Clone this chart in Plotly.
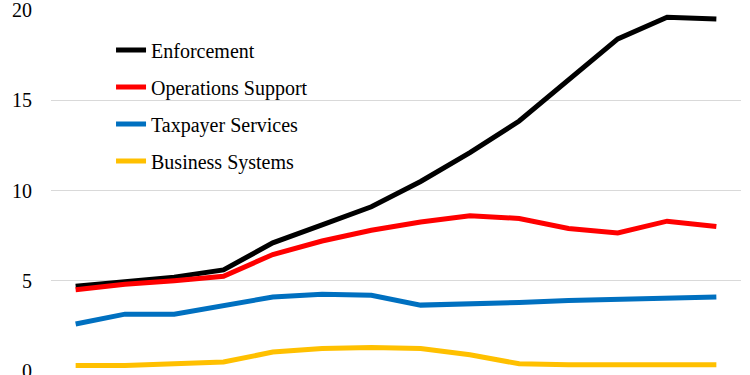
import plotly.graph_objects as go

years = [str(y) for y in range(2010, 2024)]
enforcement = [4.7, 4.95, 5.2, 5.6, 7.1, 8.1, 9.1, 10.5, 12.1, 13.85, 16.1, 18.4, 19.6, 19.5]
operations_support = [4.5, 4.8, 5.0, 5.25, 6.45, 7.2, 7.8, 8.25, 8.6, 8.45, 7.9, 7.65, 8.3, 8.0]
taxpayer_services = [2.6, 3.15, 3.15, 3.6, 4.1, 4.25, 4.2, 3.65, 3.7, 3.8, 3.9, 3.95, 4.05, 4.1]
business_systems = [0.3, 0.3, 0.4, 0.5, 1.05, 1.25, 1.3, 1.25, 0.9, 0.4, 0.35, 0.35, 0.35, 0.35]
y_ticks = [0, 5, 10, 15, 20]

series = [
    ("Enforcement", enforcement, "#000000"),
    ("Operations Support", operations_support, "#ff0000"),
    ("Taxpayer Services", taxpayer_services, "#0070c0"),
    ("Business Systems", business_systems, "#ffc000"),
]

SERIF = "Times New Roman"

fig = go.Figure()
for name, vals, color in series:
    fig.add_trace(go.Scatter(
        x=years, y=vals, name=name, mode="lines", legendgroup=name,
        line=dict(color=color, width=5),
    ))

fig.update_layout(
    width=750, height=375,
    template="none",
    paper_bgcolor="white", plot_bgcolor="white",
    margin=dict(l=51, r=9, t=10, b=4, autoexpand=False),
    font=dict(family=SERIF, size=20, color="#000000"),
    showlegend=True,
    legend=dict(
        x=0.087, y=0.943, xanchor="left", yanchor="top",
        bgcolor="rgba(255,255,255,0)",
        font=dict(size=20, family=SERIF, color="#000000"),
        tracegroupgap=8,
    ),
)
fig.update_xaxes(
    type="category", range=[-0.5, 13.5], showgrid=False, zeroline=False,
    showline=False, ticks="", automargin=False, showticklabels=False,
)
fig.update_yaxes(
    range=[0, 20], tickvals=y_ticks, showgrid=True,
    gridcolor="#d9d9d9", gridwidth=1, zeroline=False, showline=False,
    ticks="", ticklabelstandoff=18, automargin=False,
    ticklabeloverflow="allow",
    tickfont=dict(size=20, family=SERIF, color="#000000"),
)

fig.write_html(
    "out.html",
    config={"displayModeBar": False},
    post_script="document.body.style.margin='0px';",
)
